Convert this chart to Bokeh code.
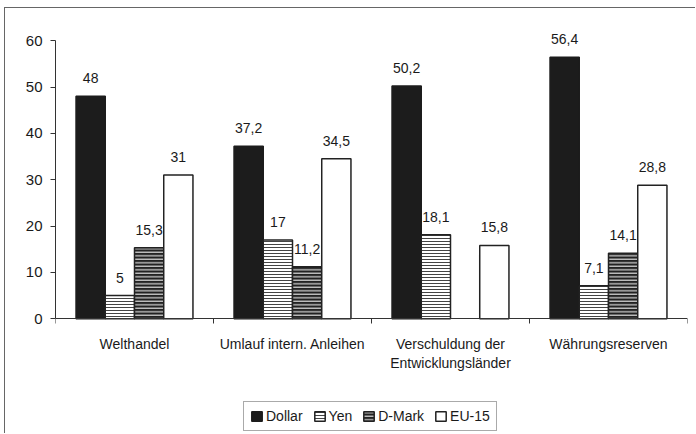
from bokeh.plotting import figure
from bokeh.models import (Range1d, FixedTicker, ColumnDataSource, LabelSet,
                          Legend, LegendItem)
from bokeh.core.properties import value
from bokeh.embed import file_html
from bokeh.resources import INLINE

categories = ["Welthandel", "Umlauf intern. Anleihen",
              "Verschuldung der\nEntwicklungsländer", "Währungsreserven"]
series = ["Dollar", "Yen", "D-Mark", "EU-15"]
dollar = [48, 37.2, 50.2, 56.4]
yen = [5, 17, 18.1, 7.1]
dmark = [15.3, 11.2, None, 14.1]
eu15 = [31, 34.5, 15.8, 28.8]
y_ticks = [0, 10, 20, 30, 40, 50, 60]

FONT = "Liberation Sans"
TXT = "#1a1a1a"

# frame spans the whole lower area; the x axis is pinned at y = 0
p = figure(width=691, height=426, output_backend="svg", toolbar_location=None,
           x_range=Range1d(0, len(categories)), y_range=Range1d(-25, 65),
           min_border_left=50, min_border_right=9, min_border_top=9,
           min_border_bottom=0)
p.outline_line_color = None
p.xgrid.visible = False
p.ygrid.visible = False
p.background_fill_color = "white"
p.border_fill_color = "white"
p.styles = {"border-top": "1px solid #666", "border-left": "1px solid #666",
            "margin-left": "4px", "margin-top": "7px"}

# axes
xa = p.xaxis[0]
xa.fixed_location = 0
centers = [i + 0.5 for i in range(len(categories))]
xa.ticker = FixedTicker(ticks=centers, minor_ticks=list(range(len(categories) + 1)))
xa.major_label_overrides = {c: lab for c, lab in zip(centers, categories)}
xa.major_tick_line_color = None
xa.major_tick_in = 0
xa.major_tick_out = 0
xa.minor_tick_in = 0
xa.minor_tick_out = 5
xa.minor_tick_line_color = "#333"
xa.axis_line_color = "#333"
xa.major_label_standoff = 12
xa.major_label_text_font = FONT
xa.major_label_text_font_size = "14px"
xa.major_label_text_color = TXT

ya = p.yaxis[0]
ya.ticker = FixedTicker(ticks=y_ticks)
ya.bounds = (0, 60)
ya.major_tick_in = 0
ya.major_tick_out = 5
ya.minor_tick_line_color = None
ya.major_tick_line_color = "#333"
ya.axis_line_color = "#333"
ya.major_label_standoff = 8
ya.major_label_text_font = FONT
ya.major_label_text_font_size = "15px"
ya.major_label_text_color = TXT

w = 0.185
styles = {
    "Dollar": dict(fill_color="#1c1c1c", line_color="#1c1c1c"),
    "Yen": dict(fill_color="white", line_color="#222", hatch_pattern="horizontal_line",
                hatch_color="#444", hatch_scale=3, hatch_weight=1),
    "D-Mark": dict(fill_color="#222", line_color="#222", hatch_pattern="horizontal_line",
                   hatch_color="white", hatch_scale=3.5, hatch_weight=1),
    "EU-15": dict(fill_color="white", line_color="#222"),
}
items = []
for k, (name, vals) in enumerate(zip(series, [dollar, yen, dmark, eu15])):
    off = (k - 1.5) * w
    xs = [i + 0.5 + off for i, v in enumerate(vals) if v is not None]
    tops = [v for v in vals if v is not None]
    labels = [f"{v:g}".replace(".", ",") for v in tops]
    src = ColumnDataSource(dict(x=xs, top=tops, label=labels))
    r = p.vbar(x="x", top="top", bottom=0, width=w, source=src, line_width=1.5,
               **styles[name])
    items.append(LegendItem(label=name, renderers=[r]))
    p.add_layout(LabelSet(x="x", y="top", text="label", source=src,
                          text_align="center", text_baseline="alphabetic",
                          y_offset=13, text_font=value(FONT),
                          text_font_size=value("14px"), text_color=TXT))

legend = Legend(items=items, orientation="horizontal", location=(188, 3),
                margin=0, padding=6, spacing=10, label_standoff=3,
                glyph_width=13, glyph_height=12,
                label_text_font=FONT, label_text_font_size="14px",
                label_text_color=TXT, border_line_color="#555",
                border_line_width=1, background_fill_color="white",
                background_fill_alpha=1)
p.add_layout(legend, "center")

open("out.html", "w").write(file_html(p, INLINE))
